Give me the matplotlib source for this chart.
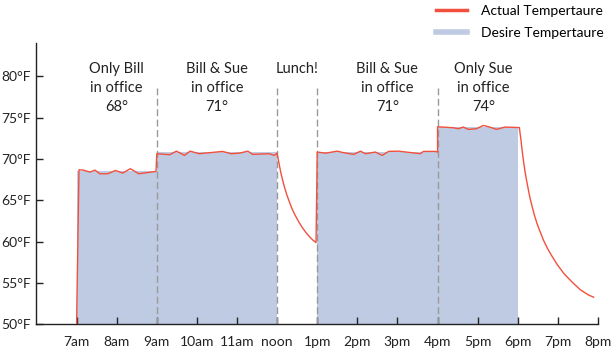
import matplotlib
matplotlib.use("Agg")
import matplotlib.pyplot as plt
from matplotlib.lines import Line2D

plt.rcParams['font.family'] = ['Lato', 'DejaVu Sans']

# actual temperature readings (hour of day, deg F)
actual_hours = [7.00, 7.06, 7.17, 7.33, 7.46, 7.58, 7.78, 7.97, 8.15, 8.34, 8.55, 8.98,
                9.00, 9.32, 9.49, 9.69, 9.83, 10.06, 10.31, 10.64, 10.85, 11.06, 11.27, 11.39, 11.80, 11.93, 12.00,
                12.01, 12.03, 12.05, 12.07, 12.09, 12.12, 12.15, 12.19, 12.24, 12.30, 12.37, 12.45, 12.54,
                12.63, 12.72, 12.81, 12.89, 12.97,
                13.00, 13.21, 13.50, 13.66, 13.91, 14.08, 14.20, 14.45, 14.62, 14.78, 15.03, 15.36, 15.57, 15.65, 15.94, 16.00,
                16.00, 16.39, 16.52, 16.64, 16.77, 16.97, 17.14, 17.30, 17.47, 17.68, 18.04,
                18.06, 18.08, 18.10, 18.12, 18.15, 18.18, 18.22, 18.26, 18.30, 18.35, 18.41, 18.48, 18.55,
                18.64, 18.74, 18.86, 18.99, 19.16, 19.36, 19.56, 19.75, 19.89]
actual_temps = [50.0, 68.7, 68.66, 68.42, 68.66, 68.22, 68.22, 68.62, 68.30, 68.83, 68.22, 68.50,
                70.64, 70.52, 70.95, 70.44, 70.95, 70.64, 70.76, 70.92, 70.64, 70.71, 70.95, 70.56, 70.64, 70.44, 70.71,
                70.4, 69.9, 69.4, 68.9, 68.4, 67.8, 67.2, 66.5, 65.7, 64.9, 64.0, 63.2, 62.4,
                61.7, 61.1, 60.6, 60.2, 59.9,
                70.84, 70.71, 70.95, 70.76, 70.56, 70.95, 70.64, 70.84, 70.44, 70.92, 70.95, 70.76, 70.64, 70.92, 70.92, 70.84,
                73.9, 73.78, 73.66, 73.86, 73.58, 73.66, 74.06, 73.86, 73.58, 73.86, 73.8,
                73.0, 72.3, 71.4, 70.6, 69.5, 68.5, 67.4, 66.4, 65.4, 64.4, 63.3, 62.2, 61.3,
                60.2, 59.2, 58.2, 57.2, 56.1, 55.1, 54.2, 53.6, 53.3]

# desired temperature blocks
desire_start = [7, 9, 13, 16]
desire_end = [9, 12, 16, 18]
desire_temp = [68.6, 70.8, 70.8, 73.9]

dividers = [9, 12, 13, 16]
notes = ["Only Bill\nin office\n68°", "Bill & Sue\nin office\n71°", "Lunch!",
         "Bill & Sue\nin office\n71°", "Only Sue\nin office\n74°"]
note_x = [8.0, 10.5, 12.5, 14.75, 17.15]

tick_hours = list(range(7, 21))
tick_labels = ["7am", "8am", "9am", "10am", "11am", "noon", "1pm", "2pm", "3pm",
               "4pm", "5pm", "6pm", "7pm", "8pm"]
ytick_vals = [50, 55, 60, 65, 70, 75, 80]

red = '#f2503d'
blue = '#bfcbe2'

fig = plt.figure(figsize=(6.12, 3.51), dpi=100)
ax = fig.add_axes([0.0596, 0.0755, 0.9175, 0.8015])

for s, e, t in zip(desire_start, desire_end, desire_temp):
    ax.fill_between([s, e], [t, t], 50, color=blue, lw=0, zorder=1)

ax.vlines(dividers, 50, 78.6, colors='#999999', linestyles=(0, (5, 2.5)), lw=1, zorder=2)
ax.plot(actual_hours, actual_temps, color=red, lw=1, zorder=3)

for x, s in zip(note_x, notes):
    ax.text(x, 81.7, s, ha='center', va='top', fontsize=10.5, linespacing=1.45, color='#222222')

ax.set_xlim(6, 20)
ax.set_ylim(50, 84)
ax.set_xticks(tick_hours)
ax.set_xticklabels(tick_labels)
ax.set_yticks(ytick_vals)
ax.set_yticklabels([f"{v}°F" for v in ytick_vals])
ax.tick_params(axis='x', direction='in', length=5, width=1, pad=8, labelsize=10, colors='#222222')
ax.tick_params(axis='y', direction='in', length=5, width=1, pad=4, labelsize=10, colors='#222222')
for sp in ['top', 'right']:
    ax.spines[sp].set_visible(False)
for sp in ['left', 'bottom']:
    ax.spines[sp].set_linewidth(1)
    ax.spines[sp].set_color('#222222')

handles = [Line2D([], [], color=red, lw=2.5), Line2D([], [], color=blue, lw=4)]
fig.legend(handles, ["Actual Tempertaure", "Desire Tempertaure"], loc='upper right',
           bbox_to_anchor=(1.0, 1.01), frameon=False, fontsize=10, handlelength=2.2,
           handletextpad=1.0, labelspacing=0.75, borderaxespad=0.2)

fig.savefig("out.png", dpi=100)
